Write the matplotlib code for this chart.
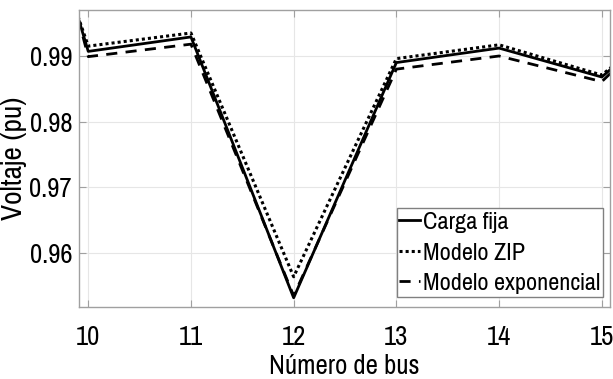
import numpy as np
import matplotlib
matplotlib.use("Agg")
import matplotlib.pyplot as plt

plt.rcParams['font.family'] = ['Pragati Narrow', 'Liberation Sans', 'DejaVu Sans']

# bus numbers (9 and 16 lie just outside the visible range)
buses = [9, 10, 11, 12, 13, 14, 15, 16]
v_fija = [1.043, 0.9907, 0.9929, 0.9532, 0.9890, 0.9912, 0.9868, 1.0005]
v_zip  = [1.037, 0.9915, 0.9935, 0.9564, 0.9896, 0.9917, 0.9871, 1.0000]
v_exp  = [1.049, 0.9899, 0.9918, 0.9535, 0.9880, 0.9900, 0.9861, 1.0010]
labels = ["Carga fija", "Modelo ZIP", "Modelo exponencial"]

W, H = 613, 379
fig = plt.figure(figsize=(W / 100, H / 100), dpi=100)
ax = fig.add_axes([79 / W, 1 - 307 / H, (610 - 79) / W, (307 - 10) / H])

ax.plot(buses, v_fija, color="black", lw=2.0, ls="-", label=labels[0])
ax.plot(buses, v_zip, color="black", lw=2.2, ls=(0, (1, 1)), label=labels[1])
ax.plot(buses, v_exp, color="black", lw=2.0, ls=(0, (4, 3)), label=labels[2])

ax.set_xlim(9.91, 15.08)
ax.set_ylim(0.9518, 0.9970)
ax.set_xticks([10, 11, 12, 13, 14, 15])
ax.set_yticks([0.96, 0.97, 0.98, 0.99])
ax.set_yticklabels(["0.96", "0.97", "0.98", "0.99"])

ax.grid(True, color="#e6e6e6", lw=0.8)
ax.set_axisbelow(True)
for s in ax.spines.values():
    s.set_color("#a0a0a0")
    s.set_linewidth(1.0)
ax.tick_params(direction="in", top=True, right=True, length=5, width=0.8,
               color="#a0a0a0", labelsize=21, labelcolor="black")
ax.tick_params(axis="x", pad=13)
ax.tick_params(axis="y", pad=5)

ax.set_xlabel("Número de bus", fontsize=21, labelpad=3)
ax.set_ylabel("Voltaje (pu)", fontsize=23)
ax.yaxis.set_label_coords(-0.098, 0.5)

leg = ax.legend(loc="lower right", bbox_to_anchor=(0.987, 0.034), fontsize=19,
                handlelength=0.8, handletextpad=0.1, borderpad=0.1, labelspacing=0.3,
                fancybox=False, framealpha=1, borderaxespad=0)
leg.get_frame().set_edgecolor("#808080")
leg.get_frame().set_linewidth(1.0)

fig.savefig("out.png", dpi=100)
